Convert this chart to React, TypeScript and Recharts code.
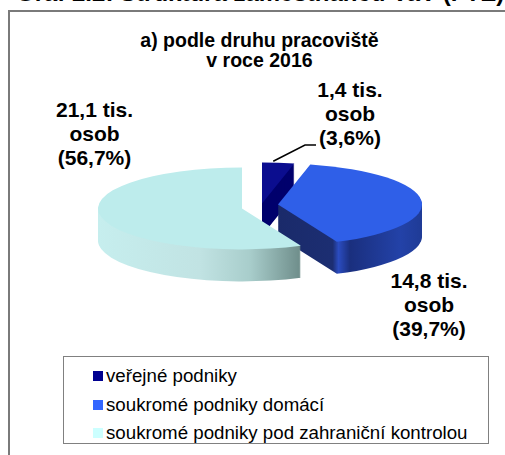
import React from 'react'
import { PieChart, Pie, Cell, Legend } from 'recharts'

document.body.style.margin = '0'

// data
const categories = ['veřejné podniky', 'soukromé podniky domácí', 'soukromé podniky pod zahraniční kontrolou']
const shares = [3.6, 39.7, 56.7]
const thousands = [1.4, 14.8, 21.1]

// colours
const topColors = ['#0b0d8f', '#2f5fe8', '#bdecec']
const sideColors = ['#00006c', 'url(#blueSide)', 'url(#cyanSide)']
const legendColors = ['#000090', '#3366ff', '#ccffff']

// 3d pie geometry (screen px)
const RX = 144
const K = 41 / 144
const DEPTH = 32
const centers = [
  { x: 257, y: 202 },
  { x: 273, y: 203 },
  { x: 237, y: 207 },
]
const labelPos = [
  { x: 350, y: 97 },
  { x: 429, y: 288 },
  { x: 94.5, y: 117 },
]

const pieData = categories.map((name, i) => ({ name, value: shares[i] }))
const fmt = (v: number) => v.toFixed(1).replace('.', ',')

const FONT = '"Liberation Sans", Arial, sans-serif'

const layers: { j: number; s: number }[] = []
for (let j = DEPTH; j >= 0; j--) {
  for (let s = 0; s < 3; s++) layers.push({ j, s })
}

// legend keeps the series order (recharts sorts by name otherwise)
const renderLegend = () => (
  <div
    style={{
      boxSizing: 'border-box',
      width: 426,
      height: 88,
      border: '1px solid #808080',
      background: '#fff',
      paddingTop: 5,
      paddingLeft: 29,
      fontFamily: FONT,
      fontSize: 18.7,
    }}
  >
    {categories.map((name, i) => (
      <div key={name} style={{ height: 28.5, display: 'flex', alignItems: 'center' }}>
        <span
          style={{
            display: 'inline-block',
            width: 10,
            height: 10,
            marginRight: 3,
            background: legendColors[i],
          }}
        />
        <span style={{ color: '#000' }}>{name}</span>
      </div>
    ))}
  </div>
)

export default function App() {
  // leader line start: rim of first slice at its mid angle
  const mid = ((shares[0] / 2) / 100) * 2 * Math.PI
  const lx = centers[0].x + RX * Math.sin(mid)
  const ly = centers[0].y - RX * K * Math.cos(mid)

  return (
    <div
      style={{
        position: 'relative',
        width: 505,
        height: 455,
        overflow: 'hidden',
        background: '#fff',
        fontFamily: FONT,
      }}
    >
      <div
        style={{
          position: 'absolute',
          left: 8,
          top: 10,
          width: 540,
          height: 480,
          border: '2px solid #7a7a7a',
          boxSizing: 'border-box',
        }}
      />

      <div style={{ position: 'absolute', left: 0, top: 0, transform: `scaleY(${K})`, transformOrigin: '0 0' }}>
        <PieChart width={505} height={455 / K}>
          <defs>
            <linearGradient id="cyanSide" x1="0" y1="0" x2="1" y2="0">
              <stop offset="0%" stopColor="#c6eeee" />
              <stop offset="50%" stopColor="#c1e3e3" />
              <stop offset="75%" stopColor="#a8cdcb" />
              <stop offset="100%" stopColor="#6e8d8a" />
            </linearGradient>
            <linearGradient id="blueSide" x1="0" y1="0" x2="1" y2="0">
              <stop offset="0%" stopColor="#1a2a6a" />
              <stop offset="38%" stopColor="#1c2e72" />
              <stop offset="42%" stopColor="#2b4cc0" />
              <stop offset="50%" stopColor="#1a2f7e" />
              <stop offset="85%" stopColor="#2342a8" />
              <stop offset="100%" stopColor="#1f3b96" />
            </linearGradient>
          </defs>
          {layers.map(({ j, s }) => (
            <Pie
              key={`${j}-${s}`}
              data={pieData}
              dataKey="value"
              nameKey="name"
              cx={centers[s].x}
              cy={(centers[s].y + j) / K}
              outerRadius={RX}
              startAngle={90}
              endAngle={-270}
              stroke="none"
              legendType="none"
              isAnimationActive={false}
            >
              {pieData.map((d, i) => (
                <Cell key={d.name} fill={i === s ? (j === 0 ? topColors[s] : sideColors[s]) : 'transparent'} />
              ))}
            </Pie>
          ))}
        </PieChart>
      </div>

      <div style={{ position: 'absolute', left: 0, top: 0 }}>
        <PieChart width={505} height={455}>
          <Pie
            data={pieData}
            dataKey="value"
            nameKey="name"
            cx={-50}
            cy={-50}
            outerRadius={2}
            stroke="none"
            isAnimationActive={false}
          >
            {pieData.map((d, i) => (
              <Cell key={d.name} fill={legendColors[i]} />
            ))}
          </Pie>
          <Legend content={renderLegend} wrapperStyle={{ left: 63, top: 356, width: 426, height: 88 }} />
        </PieChart>
      </div>

      <svg width={505} height={455} style={{ position: 'absolute', left: 0, top: 0 }} fontFamily={FONT}>
        <text x={16} y={1} fontSize={24} fontWeight="bold" fill="#000">
          Graf 2.2: Struktura zaměstnanců VaV (FTE)
        </text>
        <text x={259.5} y={47} fontSize={19.5} fontWeight="bold" textAnchor="middle" fill="#000">
          <tspan x={259.5}>a) podle druhu pracoviště</tspan>
          <tspan x={259.5} dy={20}>v roce 2016</tspan>
        </text>
        <polyline points={`${lx},${ly} 305,145 316,145`} fill="none" stroke="#000" strokeWidth={1.5} />
        {labelPos.map((p, i) => (
          <text key={i} x={p.x} y={p.y} fontSize={21} fontWeight="bold" textAnchor="middle" fill="#000">
            <tspan x={p.x}>{fmt(thousands[i])} tis.</tspan>
            <tspan x={p.x} dy={24}>osob</tspan>
            <tspan x={p.x} dy={24}>({fmt(shares[i])}%)</tspan>
          </text>
        ))}
      </svg>
    </div>
  )
}
